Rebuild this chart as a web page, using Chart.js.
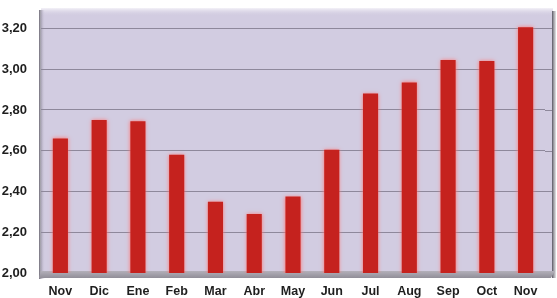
<!DOCTYPE html>
<html>
<head>
<meta charset="utf-8">
<script src="https://cdn.jsdelivr.net/npm/chart.js@4.4.1/dist/chart.umd.min.js"></script>
<style>
  html, body { margin: 0; padding: 0; background: #fff; }
  #wrap { width: 557px; height: 298px; }
</style>
</head>
<body>
<div id="wrap"><canvas id="chart" width="557" height="298"></canvas></div>
<script>
// data
const months = ['Nov', 'Dic', 'Ene', 'Feb', 'Mar', 'Abr', 'May', 'Jun', 'Jul', 'Aug', 'Sep', 'Oct', 'Nov'];
const values = [2.66, 2.75, 2.745, 2.58, 2.35, 2.29, 2.375, 2.605, 2.88, 2.935, 3.045, 3.04, 3.205];
const yTicks = [2.0, 2.2, 2.4, 2.6, 2.8, 3.0, 3.2];
const yMin = 2.0;
const yMax = 3.3;

const DEPTH = 8; // fake 3D back-wall offset

// plot background, walls and floor, like the old Excel look
const wallPlugin = {
  id: 'walls',
  beforeDraw(chart) {
    const { ctx, chartArea: a } = chart;
    ctx.save();
    // lavender back wall
    ctx.fillStyle = '#d2cce1';
    ctx.fillRect(a.left, a.top, a.right - a.left + DEPTH, a.bottom - a.top);
    // top highlight
    const g = ctx.createLinearGradient(0, a.top, 0, a.top + 8);
    g.addColorStop(0, '#f4f2f8');
    g.addColorStop(1, 'rgba(210,204,225,0)');
    ctx.fillStyle = g;
    ctx.fillRect(a.left, a.top, a.right - a.left + DEPTH, 8);
    // left wall
    const lg = ctx.createLinearGradient(a.left - 2, 0, a.left + 4, 0);
    lg.addColorStop(0, '#6f6c78');
    lg.addColorStop(1, 'rgba(210,204,225,0)');
    ctx.fillStyle = lg;
    ctx.fillRect(a.left - 2, a.top + 2, 6, a.bottom - a.top + 4);
    // right edge shadow
    const rg = ctx.createLinearGradient(a.right + DEPTH - 1, 0, a.right + DEPTH + 3, 0);
    rg.addColorStop(0, '#5e5b66');
    rg.addColorStop(1, 'rgba(120,120,130,0.2)');
    ctx.fillStyle = rg;
    ctx.fillRect(a.right + DEPTH - 1, a.top + 3, 4, a.bottom - a.top + 2);
    ctx.restore();
  },
  beforeDatasetsDraw(chart) {
    const { ctx, chartArea: a, scales } = chart;
    ctx.save();
    // carry grid lines onto the back-wall depth
    ctx.strokeStyle = '#8e889b';
    ctx.lineWidth = 1;
    yTicks.forEach(v => {
      if (v === yMin) return;
      const y = Math.round(scales.y.getPixelForValue(v)) + 0.5;
      ctx.beginPath();
      ctx.moveTo(a.right, y);
      ctx.lineTo(a.right + DEPTH - 1, y);
      ctx.stroke();
    });
    // floor
    const fg = ctx.createLinearGradient(0, a.bottom - 2, 0, a.bottom + 6);
    fg.addColorStop(0, '#b3b0ba');
    fg.addColorStop(1, '#8c8993');
    ctx.fillStyle = fg;
    ctx.beginPath();
    ctx.moveTo(a.left, a.bottom - 2);
    ctx.lineTo(a.right + DEPTH + 2, a.bottom - 2);
    ctx.lineTo(a.right + DEPTH - 2, a.bottom + 5);
    ctx.lineTo(a.left - 2, a.bottom + 5);
    ctx.closePath();
    ctx.fill();
    // soft red glow around bars
    ctx.shadowColor = 'rgba(255,120,120,1)';
    ctx.shadowBlur = 4;
  },
  afterDatasetsDraw(chart) {
    chart.ctx.restore();
  }
};

Chart.defaults.font.family = '"Liberation Sans", Arial, sans-serif';

new Chart(document.getElementById('chart'), {
  type: 'bar',
  data: {
    labels: months,
    datasets: [{
      data: values,
      backgroundColor: '#c5221e',
      borderWidth: 0,
      barPercentage: 0.39,
      categoryPercentage: 1
    }]
  },
  plugins: [wallPlugin],
  options: {
    responsive: false,
    animation: false,
    devicePixelRatio: 1,
    layout: { padding: { top: 8, right: 12, left: 0, bottom: 0 } },
    plugins: {
      legend: { display: false },
      tooltip: { enabled: false }
    },
    scales: {
      x: {
        grid: { display: false, drawTicks: false },
        border: { display: false },
        ticks: {
          color: '#1e1e1e',
          font: { size: 12.5, weight: 'bold' },
          padding: 11,
          maxRotation: 0
        },
        afterFit(scale) { scale.height = 25; }
      },
      y: {
        min: yMin,
        max: yMax,
        grid: { color: '#8e889b', lineWidth: 1, drawTicks: false },
        border: { display: false },
        afterBuildTicks(scale) {
          scale.ticks = yTicks.map(v => ({ value: v }));
        },
        ticks: {
          color: '#1e1e1e',
          font: { size: 13, weight: 'bold' },
          padding: 14,
          callback: v => v.toFixed(2).replace('.', ',')
        },
        afterFit(scale) {
          scale.width = 41;
          scale.paddingTop = 0;
          scale.paddingBottom = 0;
        }
      }
    }
  }
});
</script>
</body>
</html>
